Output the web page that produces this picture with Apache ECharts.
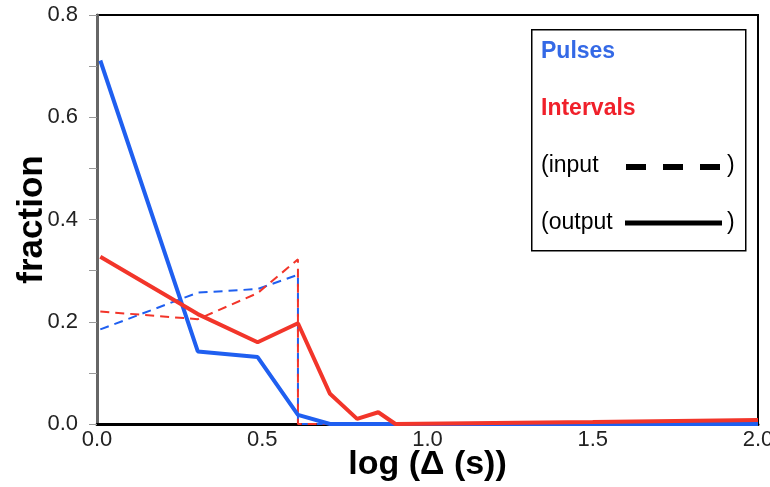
<!DOCTYPE html>
<html>
<head>
<meta charset="utf-8">
<script src="https://cdn.jsdelivr.net/npm/echarts@6/dist/echarts.min.js"></script>
<style>html,body{margin:0;padding:0;background:#fff}#c{width:770px;height:487px}</style>
</head>
<body>
<div id="c"></div>
<script>
// Data
const pulsesOutX    = [0.01, 0.305, 0.486, 0.608, 0.705, 2.0];
const pulsesOutY    = [0.711, 0.142, 0.131, 0.018, 0.0, 0.0];
const intervalsOutX = [0.01, 0.305, 0.486, 0.608, 0.705, 0.787, 0.851, 0.903, 1.5, 2.0];
const intervalsOutY = [0.327, 0.215, 0.160, 0.197, 0.059, 0.010, 0.023, 0.0, 0.004, 0.008];
const pulsesInX     = [0.01, 0.305, 0.486, 0.608, 0.608, 2.0];
const pulsesInY     = [0.185, 0.257, 0.264, 0.292, 0.0, 0.0];
const intervalsInX  = [0.01, 0.305, 0.486, 0.608, 0.608, 2.0];
const intervalsInY  = [0.220, 0.205, 0.256, 0.322, 0.0, 0.0];
const yTickLabels   = ['0.0', '0.2', '0.4', '0.6', '0.8'];
const xTickLabels   = ['0.0', '0.5', '1.0', '1.5', '2.0'];

const BLUE = '#1f5ff0';
const RED = '#f2352a';
const zip = (xs, ys) => xs.map((x, i) => [x, ys[i]]);
const FONT = '"Liberation Sans", Arial, sans-serif';

const chart = echarts.init(document.getElementById('c'));
chart.setOption({
  animation: false,
  grid: { left: 97, right: 12, top: 15, bottom: 63, containLabel: false, outerBoundsMode: 'none',
          show: true, borderColor: '#000', borderWidth: 2, backgroundColor: 'transparent' },
  xAxis: {
    type: 'value', min: 0, max: 2, interval: 0.5,
    name: 'log (Δ (s))', nameLocation: 'middle', nameGap: 24, nameMoveOverlap: false,
    nameTextStyle: { fontFamily: FONT, fontWeight: 'bold', fontSize: 34, color: '#000', verticalAlign: 'top' },
    axisLine: { lineStyle: { color: '#000', width: 3 } },
    axisTick: { show: false },
    splitLine: { show: false },
    axisLabel: {
      fontFamily: FONT, fontSize: 22, color: '#222', margin: 5,
      formatter: v => { const i = Math.round(v / 0.5); return xTickLabels[i] || ''; }
    }
  },
  yAxis: {
    type: 'value', min: 0, max: 0.8, interval: 0.1,
    name: 'fraction', nameLocation: 'middle', nameGap: 47, nameRotate: 90, nameMoveOverlap: false,
    nameTextStyle: { fontFamily: FONT, fontWeight: 'bold', fontSize: 35, color: '#000' },
    axisLine: { show: true, lineStyle: { color: '#666', width: 3 } },
    axisTick: { show: true, length: 8, lineStyle: { color: '#999', width: 1 } },
    splitLine: { show: false },
    axisLabel: {
      fontFamily: FONT, fontSize: 22, color: '#222', margin: 19,
      formatter: v => { const i = Math.round(v * 10); return i % 2 === 0 ? (yTickLabels[i / 2] || '') : ''; }
    }
  },
  series: [
    { name: 'Pulses input', type: 'line', data: zip(pulsesInX, pulsesInY), symbol: 'none', lineStyle: { color: BLUE, width: 2, type: [9, 6] }, z: 2 },
    { name: 'Intervals input', type: 'line', data: zip(intervalsInX, intervalsInY), symbol: 'none', lineStyle: { color: RED, width: 2, type: [9, 6] }, z: 3 },
    { name: 'Pulses output', type: 'line', data: zip(pulsesOutX, pulsesOutY), symbol: 'none', lineStyle: { color: BLUE, width: 4 }, z: 4 },
    { name: 'Intervals output', type: 'line', data: zip(intervalsOutX, intervalsOutY), symbol: 'none', lineStyle: { color: RED, width: 4 }, z: 5 }
  ],
  graphic: [
    { type: 'rect', left: 531, top: 29, shape: { width: 214, height: 221 }, style: { fill: '#fff', stroke: '#000', lineWidth: 1.5 }, z: 10 },
    { type: 'text', x: 541, y: 52, style: { text: 'Pulses', fill: '#3469e6', font: 'bold 23px "Liberation Sans", Arial', verticalAlign: 'middle' }, z: 11 },
    { type: 'text', x: 541, y: 109, style: { text: 'Intervals', fill: '#f0202a', font: 'bold 23px "Liberation Sans", Arial', verticalAlign: 'middle' }, z: 11 },
    { type: 'text', x: 541, y: 166, style: { text: '(input', fill: '#000', font: '23px "Liberation Sans", Arial', verticalAlign: 'middle' }, z: 11 },
    { type: 'line', shape: { x1: 626, y1: 167, x2: 722, y2: 167 }, style: { stroke: '#000', lineWidth: 6, lineDash: [20, 17] }, z: 11 },
    { type: 'text', x: 727, y: 166, style: { text: ')', fill: '#000', font: '23px "Liberation Sans", Arial', verticalAlign: 'middle' }, z: 11 },
    { type: 'text', x: 541, y: 223, style: { text: '(output', fill: '#000', font: '23px "Liberation Sans", Arial', verticalAlign: 'middle' }, z: 11 },
    { type: 'line', shape: { x1: 625, y1: 223, x2: 722, y2: 223 }, style: { stroke: '#000', lineWidth: 5 }, z: 11 },
    { type: 'text', x: 727, y: 223, style: { text: ')', fill: '#000', font: '23px "Liberation Sans", Arial', verticalAlign: 'middle' }, z: 11 }
  ]
});
</script>
</body>
</html>
